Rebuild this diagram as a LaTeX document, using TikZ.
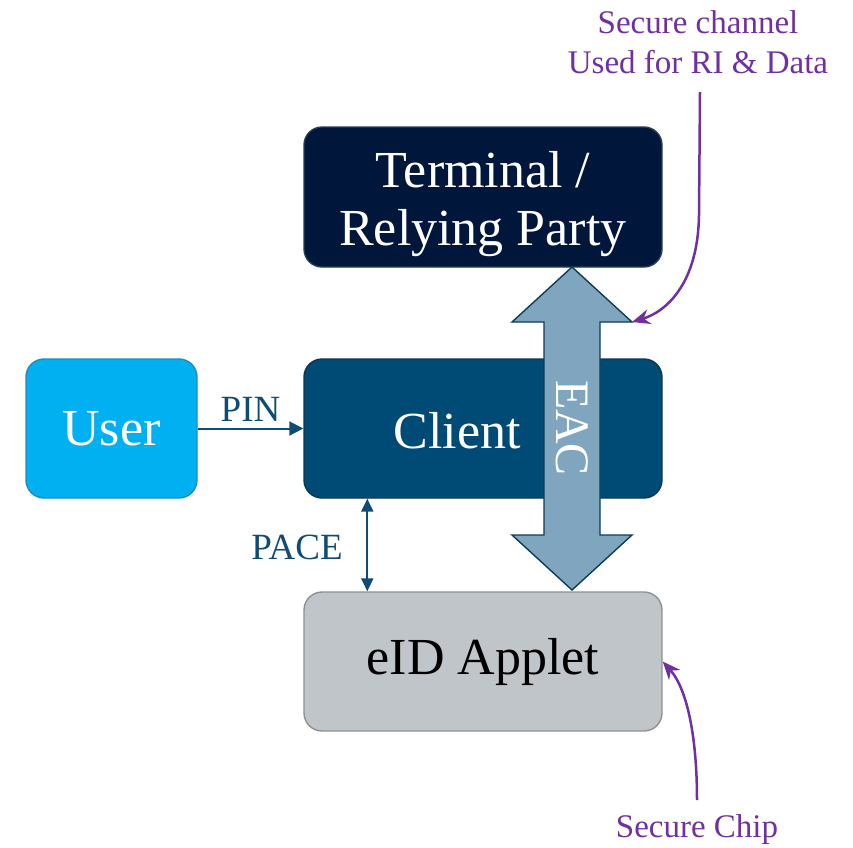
\documentclass[tikz,border=0pt]{standalone}
\usepackage{fontspec}
\setmainfont{Liberation Serif}
\usetikzlibrary{arrows.meta}

\definecolor{navy}{RGB}{0,22,58}
\definecolor{navyedge}{RGB}{40,60,90}
\definecolor{clientblue}{RGB}{0,75,117}
\definecolor{clientedge}{RGB}{10,55,85}
\definecolor{userblue}{RGB}{0,176,240}
\definecolor{useredge}{RGB}{30,140,190}
\definecolor{chipgrey}{RGB}{191,197,201}
\definecolor{chipedge}{RGB}{140,145,148}
\definecolor{eacfill}{RGB}{127,166,190}
\definecolor{eacedge}{RGB}{12,60,87}
\definecolor{linkblue}{RGB}{15,76,117}
\definecolor{notepurple}{RGB}{112,48,160}

\begin{document}
\begin{tikzpicture}[x=1pt,y=-1pt,
  box/.style={rounded corners=18pt, line width=1.4pt, minimum width=#1, minimum height=139pt, inner sep=0pt},
  big/.style={font=\fontsize{52}{58}\selectfont, align=center},
  linklabel/.style={text=linkblue, font=\fontsize{37}{40}\selectfont, inner sep=0pt},
  note/.style={text=notepurple, font=\fontsize{33}{40}\selectfont, inner sep=0pt, align=center},
  link/.style={draw=linkblue, line width=2pt},
  notearrow/.style={draw=notepurple, line width=2.5pt, -{Stealth[length=18pt,width=15pt]}}
]
\useasboundingbox (0,0) rectangle (853,847);

% boxes
\node[box=358pt, minimum height=140pt, fill=navy, draw=navyedge] (terminal) at (483,197) {};
\node[text=white, big, inner sep=0pt] (terminaltext) at (483,204) {Terminal /\\Relying Party};
\node[box=358pt, fill=clientblue, draw=clientedge] (client) at (483,428.5) {};
\node[text=white, big, inner sep=0pt] (clienttext) at (457,431) {Client};
\node[box=171pt, fill=userblue, draw=useredge, text=white, big] (user) at (111.5,428.5) {User};
\node[box=358pt, fill=chipgrey, draw=chipedge, text=black, big] (eid) at (483,661.5) {eID Applet};

% EAC double arrow between terminal and applet
\coordinate (eactop) at (572,267);
\coordinate (eachead) at (632,322);
\coordinate (eacbot) at (572,590);
\draw[fill=eacfill, draw=eacedge, line width=1.4pt, line join=miter]
  (eactop) -- (eachead) -- (600,322) -- (600,535) -- (632,535) -- (eacbot)
  -- (512,535) -- (544,535) -- (544,322) -- (512,322) -- cycle;
\node[rotate=-90, text=white, font=\fontsize{48}{50}\selectfont, inner sep=0pt] (eac) at (572,428) {EAC};

% PIN and PACE links
\draw[link, -{Triangle[length=14pt,width=14pt]}] (user.east) -- (client.west)
  node[midway, above=6pt, linklabel] (pin) {PIN};
\draw[link, {Triangle[length=13pt,width=12pt]}-{Triangle[length=13pt,width=12pt]}]
  ([xshift=64pt]client.south west) -- ([xshift=64pt]eid.north west);
\node[linklabel] (pace) at (297,547) {PACE};

% annotations
\node[note] (channel) at (698,42) {Secure channel\\Used for RI \& Data};
\coordinate (channelfoot) at (700,92);
\draw[notearrow] (channelfoot) -- (699,215) .. controls (698,285) and (665,312) .. (eachead);

\node[note] (chip) at (697,830) {Secure Chip};
\coordinate (chipfoot) at (697,800);
\draw[notearrow] (chipfoot) .. controls (697,740) and (688,690) .. (eid.east);
\end{tikzpicture}
\end{document}
